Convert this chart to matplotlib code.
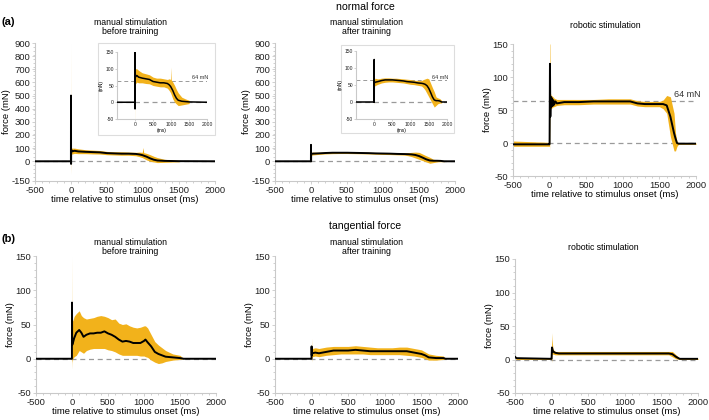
import matplotlib.pyplot as plt
from matplotlib.patches import Rectangle
from matplotlib.ticker import AutoMinorLocator

plt.rcParams['font.family'] = ['Liberation Sans', 'DejaVu Sans']
plt.rcParams['axes.unicode_minus'] = False

BAND = '#F2B21B'
GRID = '#c9c9c9'
DASH = '#9a9a9a'

# ---- normal force, manual before training
t_nb = [-500, -1, 0, 1, 2, 10, 50, 100, 200, 300, 400, 500, 600, 700, 800, 900, 950, 990,
        1000, 1010, 1050, 1100, 1150, 1200, 1300, 1400, 1500, 1510, 2000]
m_nb = [0, 0, 500, -20, 90, 75, 80, 75, 72, 70, 68, 62, 60, 58, 58, 56, 52, 47,
        45, 43, 35, 22, 12, 6, 3, 2, 1, 1, 0]
hi_nb = [0, 0, 900, 120, 110, 100, 100, 95, 88, 85, 82, 75, 72, 72, 70, 68, 70, 68,
         105, 66, 60, 50, 38, 28, 15, 10, 6, 0, 0]
lo_nb = [0, 0, -100, -30, 60, 55, 60, 58, 58, 56, 55, 50, 48, 46, 46, 42, 35, 28,
         25, 22, 10, 0, -5, -10, -8, -6, -4, 0, 0]

# ---- normal force, manual after training
t_na = [-500, -1, 0, 1, 2, 20, 100, 200, 300, 400, 500, 600, 700, 800, 900, 1000, 1100,
        1200, 1300, 1350, 1400, 1450, 1500, 1550, 1600, 1650, 1700, 1750, 1800, 1850, 1860, 2000]
m_na = [0, 0, 125, 0, 55, 58, 60, 63, 65, 65, 65, 64, 63, 62, 60, 59, 58,
        56, 55, 54, 52, 48, 40, 28, 15, 6, 4, 4, 3, 0, 0, 0]
hi_na = [0, 0, 170, 10, 65, 70, 68, 70, 71, 71, 70, 70, 69, 68, 67, 66, 64,
         63, 63, 66, 68, 70, 68, 55, 42, 30, 15, 12, 10, 5, 0, 0]
lo_na = [0, 0, -10, -5, 45, 48, 52, 56, 58, 59, 59, 58, 57, 56, 54, 52, 51,
         49, 47, 42, 35, 25, 15, 5, -5, -15, -10, -5, -3, -3, 0, 0]

# ---- normal force, robotic
t_nr = [-500, -1, 0, 5, 10, 15, 20, 30, 40, 50, 60, 80, 100, 200, 400, 600, 800, 1000,
        1100, 1200, 1300, 1500, 1550, 1600, 1650, 1700, 1720, 1740, 1760, 2000]
m_nr = [-2, -2, 0, 120, 40, 70, 55, 68, 56, 65, 58, 63, 60, 62, 62, 63, 63, 63,
        63, 60, 59, 59, 59, 57, 40, 15, 7, 0, -1, -1]
hi_nr = [3, 1, 150, 150, 72, 75, 72, 72, 70, 70, 68, 67, 66, 66, 66, 66, 67, 67,
         67, 64, 63, 63, 65, 72, 70, 45, 15, 2, 0, 0]
lo_nr = [-5, -5, -12, 50, 50, 52, 52, 53, 54, 55, 55, 56, 57, 58, 58, 59, 59, 59,
         59, 56, 55, 55, 52, 45, 10, -12, -12, -5, -2, -2]

# ---- tangential force, manual before training
t_tb = [-500, -1, 0, 2, 10, 30, 60, 100, 130, 160, 200, 250, 300, 350, 400, 450, 500, 550,
        600, 650, 700, 750, 800, 850, 900, 950, 1000, 1020, 1050, 1100, 1150, 1200, 1250,
        1300, 1400, 1500, 1550, 2000]
m_tb = [0, 0, 82, 20, 22, 30, 38, 42, 38, 32, 35, 37, 37, 38, 38, 40, 37, 35,
        32, 28, 25, 26, 25, 23, 23, 23, 26, 28, 24, 18, 10, 7, 5,
        3, 2, 1, 0, 0]
hi_tb = [0, 0, 150, 60, 55, 62, 66, 70, 63, 60, 58, 59, 60, 62, 63, 62, 60, 57,
         58, 52, 50, 51, 48, 46, 45, 46, 48, 48, 45, 35, 25, 20, 16,
         12, 7, 5, 0, 0]
lo_tb = [0, 0, -15, -5, 0, 3, 5, 12, 10, 8, 12, 14, 15, 15, 15, 15, 13, 12,
         10, 7, 5, 5, 5, 5, 5, 4, 4, 3, 2, -2, -5, -7, -6,
         -4, -2, -1, 0, 0]

# ---- tangential force, manual after training
t_ta = [-500, -1, 0, 2, 10, 50, 100, 200, 300, 400, 500, 600, 700, 800, 900, 1000, 1100,
        1200, 1300, 1400, 1500, 1550, 1600, 1700, 1800, 1830, 2000]
m_ta = [0, 0, 18, 5, 8, 9, 8, 10, 12, 12, 12, 13, 12, 11, 11, 11, 11,
        11, 11, 9, 7, 5, 2, 1, 1, 0, 0]
hi_ta = [0, 0, 30, 20, 15, 16, 15, 17, 18, 18, 18, 19, 18, 17, 16, 16, 16,
         17, 17, 15, 13, 10, 7, 5, 4, 0, 0]
lo_ta = [0, 0, -5, 0, 3, 4, 3, 5, 6, 7, 7, 7, 7, 6, 6, 6, 6,
         6, 5, 4, 2, 0, -2, -2, -1, 0, 0]

# ---- tangential force, robotic
t_tr = [-500, -480, -1, 0, 5, 20, 50, 100, 600, 1200, 1600, 1650, 1700, 1750, 2000]
m_tr = [4, 2, 1, 1, 18, 12, 10, 9, 9, 9, 9, 8, 4, 1, 1]
hi_tr = [5, 3, 2, 40, 30, 15, 12, 12, 12, 12, 12, 12, 7, 2, 2]
lo_tr = [2, 0, 0, -5, 8, 8, 7, 7, 7, 7, 7, 4, 1, 0, 0]

x_ticks = [-500, 0, 500, 1000, 1500, 2000]
W, H = 709, 420


def px_axes(fig, x0, x1, ytop, ybot):
    return fig.add_axes([x0 / W, 1 - ybot / H, (x1 - x0) / W, (ybot - ytop) / H])


def style(ax, ylim, yticks, xticks, fs, minor=True):
    ax.set_xlim(-500, 2000)
    ax.set_ylim(*ylim)
    ax.set_yticks(yticks)
    ax.set_xticks(xticks)
    for s in ['top', 'right']:
        ax.spines[s].set_visible(False)
    for s in ['left', 'bottom']:
        ax.spines[s].set_color(GRID)
        ax.spines[s].set_linewidth(0.8)
    if minor:
        ax.yaxis.set_minor_locator(AutoMinorLocator(5))
        ax.xaxis.set_minor_locator(AutoMinorLocator(5))
    ax.tick_params(which='both', color=GRID, length=2, width=0.6, labelsize=fs,
                   labelcolor='#222222', pad=1.5)
    ax.tick_params(which='minor', length=1.2)


def draw(ax, t, m, lo, hi, lw=1.4, zero=True):
    if zero:
        ax.axhline(0, color=DASH, lw=0.9, ls=(0, (4, 3)), zorder=1)
    ax.fill_between(t, lo, hi, color=BAND, lw=0, zorder=2)
    ax.plot(t, m, color='black', lw=lw, zorder=3)


fig = plt.figure(figsize=(7.09, 4.2), dpi=100)

panels = [
    (35, 215, 43, 181, t_nb, m_nb, lo_nb, hi_nb, (-150, 900), [-150] + list(range(0, 901, 100))),
    (275, 455, 43, 181, t_na, m_na, lo_na, hi_na, (-150, 900), [-150] + list(range(0, 901, 100))),
    (513, 696, 44, 176, t_nr, m_nr, lo_nr, hi_nr, (-50, 150), [-50, 0, 50, 100, 150]),
    (36, 216, 256, 393, t_tb, m_tb, lo_tb, hi_tb, (-50, 150), [-50, 0, 50, 100, 150]),
    (275, 458, 256, 393, t_ta, m_ta, lo_ta, hi_ta, (-50, 150), [-50, 0, 50, 100, 150]),
    (515, 698, 259, 393, t_tr, m_tr, lo_tr, hi_tr, (-50, 150), [-50, 0, 50, 100, 150]),
]

axes = []
for x0, x1, yt, yb, t, m, lo, hi, ylim, yt_ in panels:
    ax = px_axes(fig, x0, x1, yt, yb)
    draw(ax, t, m, lo, hi)
    style(ax, ylim, yt_, x_ticks, 6.8)
    ax.set_xlabel('time relative to stimulus onset (ms)', fontsize=6.8, labelpad=0)
    ax.set_ylabel('force (mN)', fontsize=6.8, labelpad=0)
    axes.append(ax)

# 64 mN reference on robotic normal force
axes[2].axhline(64, color=DASH, lw=0.9, ls=(0, (4, 3)), zorder=1)
axes[2].text(1700, 67, '64 mN', fontsize=6.5, va='bottom', ha='left', color='#333333')

# insets for manual normal force
insets = [
    ((98, 215, 43, 135), (117, 207, 52, 119), t_nb, m_nb, lo_nb, hi_nb, 1580),
    ((341, 454, 45, 133), (356, 447, 51, 119), t_na, m_na, lo_na, hi_na, 1600),
]
for box, inner, t, m, lo, hi, lx in insets:
    bx0, bx1, byt, byb = box
    fig.patches.append(Rectangle((bx0 / W, 1 - byb / H), (bx1 - bx0) / W, (byb - byt) / H,
                                 transform=fig.transFigure, facecolor='white',
                                 edgecolor='#dddddd', lw=0.8, zorder=5))
    ia = px_axes(fig, *inner)
    ia.set_zorder(6)
    ia.patch.set_alpha(0)
    draw(ia, t, m, lo, hi, lw=1.1)
    ia.axhline(64, color=DASH, lw=0.7, ls=(0, (4, 3)), zorder=1)
    ia.text(lx, 66, '64 mN', fontsize=4, va='bottom', ha='left', color='#333333')
    style(ia, (-50, 150), [-50, 0, 50, 100, 150], [0, 500, 1000, 1500, 2000], 3.6, minor=False)
    ia.tick_params(length=1.2, pad=1)
    ia.set_xlabel('(ms)', fontsize=3.6, labelpad=1)
    ia.set_ylabel('(mN)', fontsize=3.6, labelpad=1)

# headings
fig.text(365 / W, 1 - 7 / H, 'normal force', fontsize=7.6, ha='center', va='center')
fig.text(365 / W, 1 - 226 / H, 'tangential force', fontsize=7.6, ha='center', va='center')
fig.text(2 / W, 1 - 22 / H, '(a)', fontsize=8, fontweight='bold', ha='left', va='center')
fig.text(2 / W, 1 - 239 / H, '(b)', fontsize=8, fontweight='bold', ha='left', va='center')

subtitles = [
    (130, 27, 'manual stimulation\nbefore training'),
    (366, 27, 'manual stimulation\nafter training'),
    (605, 26, 'robotic stimulation'),
    (130, 247, 'manual stimulation\nbefore training'),
    (366, 247, 'manual stimulation\nafter training'),
    (603, 248, 'robotic stimulation'),
]
for x, y, s in subtitles:
    fig.text(x / W, 1 - y / H, s, fontsize=6.3, ha='center', va='center', linespacing=1.0)

fig.savefig('out.png', dpi=100)
